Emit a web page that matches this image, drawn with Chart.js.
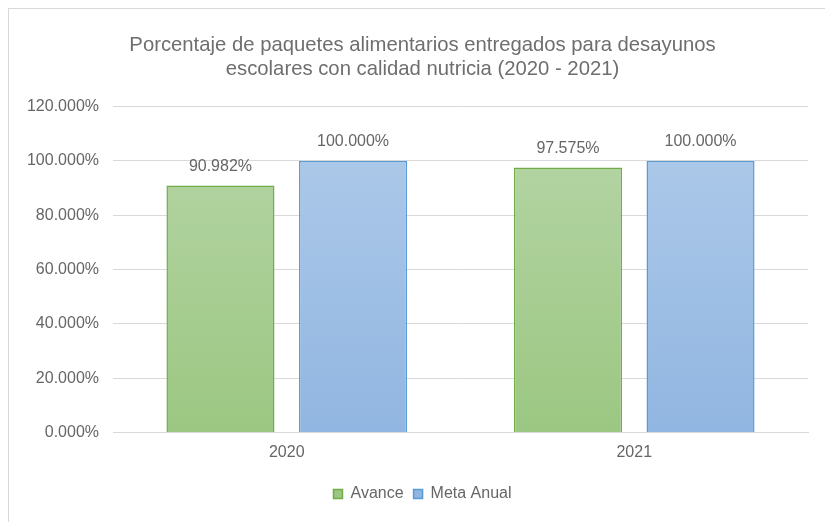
<!DOCTYPE html>
<html>
<head>
<meta charset="utf-8">
<script src="https://cdn.jsdelivr.net/npm/chart.js@4"></script>
<style>
html,body{margin:0;padding:0;background:#fff;overflow:hidden;}
#wrap{position:absolute;left:0;top:0;width:825px;height:522px;}
#frame{position:absolute;left:8px;top:8px;width:900px;height:600px;border:1px solid #d9d9d9;box-sizing:border-box;}
canvas{position:absolute;left:0;top:0;}
</style>
</head>
<body>
<div id="wrap">
<div id="frame"></div>
<canvas id="c" width="825" height="522"></canvas>
</div>
<script>
const categories = ['2020', '2021'];
const avance = [0.90982, 0.97575];
const metaAnual = [1.0, 1.0];
const seriesNames = ['Avance', 'Meta Anual'];
const titleLines = ['Porcentaje de paquetes alimentarios entregados para desayunos', 'escolares con calidad nutricia (2020 - 2021)'];

const FONT = '"Liberation Sans", Arial, sans-serif';
const TXT = '#666666';
const FS = 16;

function grad(ctx, top, bottom) {
  const ch = ctx.chart;
  const area = ch.chartArea;
  if (!area) return top;
  const g = ch.ctx.createLinearGradient(0, area.top, 0, area.bottom);
  g.addColorStop(0, top);
  g.addColorStop(1, bottom);
  return g;
}

const fmt = v => (v * 100).toFixed(3) + '%';

const labelPlugin = {
  id: 'barLabels',
  afterDatasetsDraw(chart) {
    const ctx = chart.ctx;
    ctx.save();
    ctx.font = FS + 'px ' + FONT;
    ctx.fillStyle = TXT;
    ctx.textAlign = 'center';
    ctx.textBaseline = 'middle';
    chart.data.datasets.forEach((ds, i) => {
      const meta = chart.getDatasetMeta(i);
      meta.data.forEach((el, j) => {
        ctx.fillText(fmt(ds.data[j]), el.x, el.y - 19);
      });
    });
    ctx.restore();
  }
};

new Chart(document.getElementById('c'), {
  type: 'bar',
  data: {
    labels: categories,
    datasets: [
      {
        label: seriesNames[0],
        data: avance,
        backgroundColor: c => grad(c, '#b7d6a8', '#9cc782'),
        borderColor: '#70ad47',
        borderWidth: 1.5,
        borderSkipped: 'bottom'
      },
      {
        label: seriesNames[1],
        data: metaAnual,
        backgroundColor: c => grad(c, '#b0cbea', '#91b6e1'),
        borderColor: '#5b9bd5',
        borderWidth: 1.5,
        borderSkipped: 'bottom'
      }
    ]
  },
  options: {
    responsive: false,
    animation: false,
    devicePixelRatio: 1,
    categoryPercentage: 0.763,
    barPercentage: 0.815,
    layout: { padding: { left: 20, right: 0, top: 0, bottom: 10 } },
    plugins: {
      title: {
        display: true,
        text: titleLines,
        color: '#6e6e6e',
        font: { family: FONT, size: 20.3, weight: 'normal', lineHeight: 1.15 },
        padding: { top: 34, bottom: 26 }
      },
      legend: {
        position: 'bottom',
        labels: {
          color: TXT,
          font: { family: FONT, size: FS },
          boxWidth: 9,
          boxHeight: 9,
          padding: 10
        }
      },
      tooltip: { enabled: false }
    },
    scales: {
      x: {
        grid: { display: false },
        border: { color: '#d9d9d9', width: 1 },
        ticks: { color: TXT, font: { family: FONT, size: FS }, padding: 2 },
        afterFit: s => { s.height = 43.5; }
      },
      y: {
        min: 0,
        max: 1.2,
        ticks: {
          stepSize: 0.2,
          color: TXT,
          font: { family: FONT, size: FS },
          padding: 14,
          callback: v => fmt(v)
        },
        grid: { color: '#d9d9d9', drawTicks: false },
        border: { display: false },
        afterFit: s => { s.width = 93; }
      },
      y2: {
        position: 'right',
        min: 0,
        max: 1.2,
        ticks: { display: false },
        grid: { display: false, drawTicks: false },
        border: { display: false },
        afterFit: s => { s.width = 17; }
      }
    }
  },
  plugins: [labelPlugin]
});
</script>
</body>
</html>
